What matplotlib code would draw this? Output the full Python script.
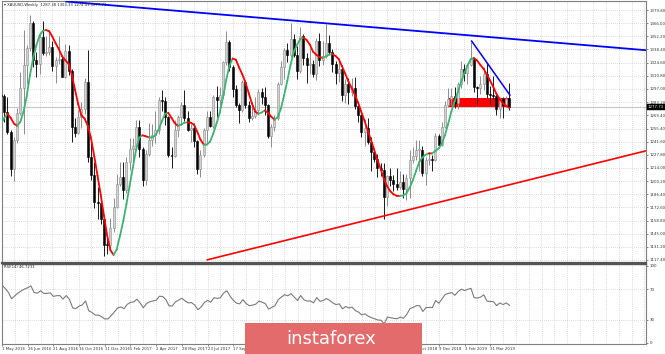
import numpy as np
import matplotlib
matplotlib.use("Agg")
import matplotlib.pyplot as plt
from matplotlib.collections import LineCollection
from matplotlib.patches import Rectangle
import matplotlib.transforms as mtransforms

# ---------------- data ----------------
# earlier weekly closes (Dec 2015 - 24 Apr 2016), off-screen history used to warm up the indicators
history_closes = [1075, 1065, 1076, 1061, 1097, 1089, 1097, 1117, 1158, 1239, 1230, 1222, 1270,
                  1259, 1254, 1217, 1222, 1243, 1235, 1232, 1291]

# weekly XAUUSD candles, 1 May 2016 .. 12 May 2019
opens = [1291, 1290, 1273, 1252, 1213, 1243, 1272, 1298, 1322, 1340, 1366, 1327, 1323, 1351, 1335, 1336,
         1341, 1321, 1327, 1328, 1310, 1337, 1316, 1257, 1251, 1267, 1276, 1304, 1225, 1207, 1178, 1177,
         1160, 1134, 1133, 1151, 1173, 1197, 1205, 1191, 1220, 1234, 1237, 1257, 1234, 1201, 1229, 1243,
         1249, 1254, 1285, 1284, 1268, 1228, 1227, 1254, 1267, 1280, 1266, 1254, 1256, 1242, 1213, 1228,
         1254, 1268, 1258, 1289, 1285, 1291, 1325, 1346, 1320, 1297, 1280, 1275, 1304, 1280, 1266, 1269,
         1275, 1294, 1288, 1280, 1248, 1257, 1266, 1302, 1320, 1338, 1333, 1349, 1333, 1316, 1352, 1329,
         1322, 1323, 1313, 1347, 1327, 1332, 1345, 1336, 1323, 1314, 1318, 1291, 1302, 1294, 1298, 1279,
         1270, 1252, 1256, 1241, 1231, 1223, 1214, 1212, 1184, 1206, 1201, 1197, 1194, 1199, 1192, 1203,
         1222, 1227, 1233, 1233, 1209, 1222, 1223, 1222, 1248, 1238, 1257, 1280, 1286, 1290, 1282, 1302,
         1318, 1314, 1322, 1328, 1299, 1298, 1302, 1313, 1292, 1291, 1290, 1276, 1286, 1280, 1287.38]
highs = [1304, 1292, 1288, 1254, 1247, 1277, 1315, 1359, 1343, 1375, 1368, 1336, 1357, 1368, 1352, 1358,
         1347, 1330, 1352, 1331, 1344, 1343, 1318, 1266, 1275, 1283, 1308, 1338, 1240, 1220, 1194, 1179,
         1165, 1143, 1162, 1182, 1208, 1220, 1220, 1226, 1245, 1245, 1264, 1264, 1236, 1233, 1261, 1260,
         1274, 1288, 1296, 1289, 1269, 1236, 1264, 1270, 1283, 1296, 1274, 1260, 1261, 1243, 1233, 1256,
         1274, 1274, 1291, 1300, 1299, 1326, 1358, 1348, 1322, 1301, 1282, 1306, 1306, 1284, 1283, 1288,
         1297, 1298, 1299, 1281, 1260, 1270, 1304, 1326, 1340, 1345, 1366, 1355, 1342, 1362, 1355, 1335,
         1340, 1327, 1350, 1356, 1347, 1365, 1354, 1339, 1326, 1326, 1322, 1307, 1308, 1308, 1310, 1281,
         1271, 1265, 1266, 1247, 1235, 1229, 1219, 1219, 1207, 1214, 1207, 1214, 1211, 1208, 1208, 1233,
         1236, 1243, 1243, 1237, 1226, 1231, 1228, 1251, 1250, 1262, 1284, 1298, 1298, 1299, 1304, 1326,
         1323, 1323, 1346, 1330, 1300, 1311, 1320, 1324, 1300, 1311, 1292, 1288, 1289, 1290, 1303.33]
lows = [1275, 1262, 1250, 1206, 1200, 1240, 1270, 1250, 1302, 1337, 1320, 1310, 1313, 1333, 1332, 1333,
        1316, 1303, 1323, 1309, 1308, 1312, 1241, 1247, 1250, 1256, 1271, 1220, 1201, 1172, 1160, 1155,
        1122, 1124, 1130, 1147, 1172, 1195, 1181, 1188, 1212, 1217, 1233, 1225, 1195, 1196, 1227, 1237,
        1240, 1250, 1274, 1259, 1226, 1214, 1226, 1247, 1259, 1263, 1253, 1241, 1236, 1208, 1205, 1225,
        1240, 1257, 1256, 1267, 1280, 1288, 1322, 1316, 1288, 1278, 1261, 1273, 1277, 1262, 1264, 1266,
        1270, 1281, 1270, 1245, 1236, 1253, 1264, 1301, 1307, 1325, 1330, 1330, 1307, 1314, 1322, 1303,
        1313, 1309, 1306, 1321, 1322, 1329, 1334, 1315, 1302, 1304, 1284, 1282, 1281, 1290, 1276, 1262,
        1246, 1237, 1239, 1211, 1220, 1204, 1206, 1160, 1174, 1195, 1190, 1191, 1192, 1182, 1180, 1183,
        1219, 1222, 1211, 1206, 1196, 1217, 1211, 1221, 1235, 1237, 1256, 1278, 1280, 1277, 1276, 1298,
        1305, 1302, 1321, 1294, 1281, 1292, 1296, 1287, 1281, 1286, 1270, 1266, 1266, 1278, 1274.43]
closes = [1290, 1273, 1252, 1213, 1243, 1272, 1298, 1322, 1340, 1366, 1327, 1323, 1351, 1335, 1336, 1341,
          1321, 1327, 1328, 1310, 1337, 1316, 1257, 1251, 1267, 1276, 1304, 1225, 1207, 1178, 1177, 1160,
          1133, 1133, 1151, 1173, 1197, 1205, 1191, 1220, 1234, 1237, 1257, 1234, 1201, 1229, 1243, 1249,
          1254, 1285, 1284, 1268, 1228, 1227, 1254, 1267, 1280, 1266, 1254, 1256, 1242, 1213, 1228, 1254,
          1268, 1258, 1289, 1285, 1291, 1325, 1346, 1320, 1297, 1280, 1275, 1304, 1280, 1266, 1269, 1275,
          1294, 1288, 1280, 1248, 1257, 1266, 1302, 1320, 1338, 1333, 1349, 1333, 1316, 1352, 1329, 1322,
          1323, 1313, 1347, 1327, 1332, 1345, 1336, 1323, 1314, 1318, 1291, 1302, 1294, 1298, 1279, 1270,
          1252, 1256, 1241, 1231, 1223, 1214, 1212, 1184, 1206, 1201, 1197, 1194, 1199, 1192, 1203, 1222,
          1227, 1233, 1233, 1209, 1222, 1223, 1222, 1248, 1238, 1257, 1280, 1286, 1290, 1282, 1302, 1318,
          1314, 1322, 1328, 1299, 1298, 1302, 1313, 1292, 1291, 1290, 1276, 1286, 1280, 1286, 1277.73]

price_ticks = [1379.80, 1366.00, 1352.20, 1338.40, 1324.60, 1310.80, 1297.00, 1283.20, 1269.40, 1255.40,
               1241.60, 1227.80, 1214.00, 1200.20, 1186.40, 1172.60, 1158.80, 1145.00, 1131.20, 1117.40]
date_labels = ["1 May 2016", "26 Jun 2016", "21 Aug 2016", "16 Oct 2016", "11 Dec 2016", "5 Feb 2017",
               "2 Apr 2017", "28 May 2017", "23 Jul 2017", "17 Sep 2017", "12 Nov 2017", "7 Jan 2018",
               "4 Mar 2018", "29 Apr 2018", "24 Jun 2018", "19 Aug 2018", "14 Oct 2018", "9 Dec 2018",
               "3 Feb 2019", "31 Mar 2019"]
date_label_step = 8          # weeks between labels
rsi_ticks = [100, 70, 30, 0]

# hand-drawn analysis objects (week index, price)
resistance_line = ([20.0, 200.5], [1388.8, 1337.6])
support_line = ([63.9, 200.5], [1117.4, 1232.0])
short_down_line = ([146.3, 158.2], [1347.2, 1290.5])
support_zone = (139.0, 158.3, 1278.5, 1287.0)   # x0, x1, y0, y1

header = "\u25be XAUUSD,Weekly  1287.38 1303.33 1274.43 1277.73"
rsi_title = "RSI(14) 46.7233"
current_price = closes[-1]

# ---------------- indicators ----------------
all_c = np.array(history_closes + closes, dtype=float)
nh = len(history_closes)
n = len(closes)
x = np.arange(n)

# RSI(14), Wilder smoothing
d = np.diff(all_c)
g = np.where(d > 0, d, 0.0)
l = np.where(d < 0, -d, 0.0)
p = 14
ag = g[:p].mean(); al = l[:p].mean()
rsi_all = np.full(len(all_c), np.nan)
rsi_all[p] = 100 - 100 / (1 + ag / al)
for i in range(p, len(d)):
    ag = (ag * (p - 1) + g[i]) / p
    al = (al * (p - 1) + l[i]) / p
    rsi_all[i + 1] = 100 - 100 / (1 + ag / al) if al > 0 else 100
rsi = rsi_all[nh:]

# Hull moving average of close
def wma(a, k):
    w = np.arange(1, k + 1, dtype=float)
    out = np.full(len(a), np.nan)
    for i in range(k - 1, len(a)):
        out[i] = np.dot(a[i - k + 1:i + 1], w) / w.sum()
    return out

hp = 16
raw = 2 * wma(all_c, hp // 2) - wma(all_c, hp)
raw_valid = np.where(np.isnan(raw), all_c, raw)
ma_all = wma(raw_valid, int(np.sqrt(hp)))
ma = ma_all[nh:]

# ---------------- figure ----------------
W, H = 665, 354
fig = plt.figure(figsize=(W / 100, H / 100), dpi=100)
fig.patch.set_facecolor("white")

def fr(px_left, px_top, px_w, px_h):
    return [px_left / W, 1 - (px_top + px_h) / H, px_w / W, px_h / H]

ax = fig.add_axes(fr(2, 1, 644, 262))
axr = fig.add_axes(fr(2, 264, 644, 80))

XL = (0.31, 200.5)
ax.set_xlim(*XL)
ax.set_ylim(1114.25, 1389.26)
axr.set_xlim(*XL)
axr.set_ylim(-1.7, 102.6)

grid_kw = dict(color="#c4c4c4", lw=0.5, ls=(0, (1.2, 1.8)), zorder=0)
for a in (ax, axr):
    for wk in range(0, 201, 4):
        a.axvline(wk, **grid_kw)
for pt in price_ticks:
    ax.axhline(pt, **grid_kw)
for lv in (70, 30):
    axr.axhline(lv, **grid_kw)

# bid line
ax.axhline(current_price, color="#c8c8c8", lw=0.8, zorder=1)

# support zone
x0, x1, y0, y1 = support_zone
ax.add_patch(Rectangle((x0, y0), x1 - x0, y1 - y0, color="#ff0000", lw=0, zorder=2))

# candles
o = np.array(opens); h = np.array(highs); lo = np.array(lows); c = np.array(closes)
up = c >= o
ax.vlines(x[up], lo[up], h[up], color="#8c8c8c", lw=0.7, zorder=3)
ax.vlines(x[~up], lo[~up], h[~up], color="#1a1a1a", lw=0.7, zorder=3)
body_lo = np.minimum(o, c); body_h = np.maximum(np.abs(c - o), 0.6)
ax.bar(x[up], body_h[up], bottom=body_lo[up], width=0.62, color="#d2d2d2",
       edgecolor="#8c8c8c", lw=0.4, zorder=4)
ax.bar(x[~up], body_h[~up], bottom=body_lo[~up], width=0.62, color="#000000",
       edgecolor="#000000", lw=0.4, zorder=4)

# colored MA
pts = np.column_stack([x, ma])
segs = np.stack([pts[:-1], pts[1:]], axis=1)
cols = ["#3cb371" if ma[i + 1] >= ma[i] else "#ff0000" for i in range(n - 1)]
ax.add_collection(LineCollection(segs, colors=cols, lw=1.3, zorder=5, capstyle="round"))

# trend lines
ax.plot(*resistance_line, color="#0000ff", lw=1.3, zorder=6, solid_capstyle="butt")
ax.plot(*support_line, color="#ff0000", lw=1.2, zorder=6, solid_capstyle="butt")
ax.plot(*short_down_line, color="#0000ff", lw=1.1, zorder=6)

# RSI
axr.plot(x, rsi, color="#7a7a7a", lw=0.8, zorder=3)

# axes styling
for a in (ax, axr):
    for s in a.spines.values():
        s.set_color("#7f7f7f"); s.set_linewidth(0.8)
    a.yaxis.tick_right()
    a.tick_params(axis="y", direction="out", length=1.5, width=0.5, colors="#555555",
                  labelsize=2.8, pad=1.2, labelcolor="#333333")
ax.spines["bottom"].set_color("#555555"); ax.spines["bottom"].set_linewidth(1.6)
axr.spines["top"].set_color("#555555"); axr.spines["top"].set_linewidth(1.0)

ax.set_yticks(price_ticks)
ax.set_yticklabels([f"{v:.2f}" for v in price_ticks])
ax.set_xticks([])
axr.set_yticks(rsi_ticks)
axr.set_yticklabels([str(v) for v in rsi_ticks])
date_pos = [i * date_label_step for i in range(len(date_labels))]
axr.set_xticks(date_pos)
axr.set_xticklabels(date_labels, ha="left")
axr.tick_params(axis="x", direction="out", length=1.5, width=0.5, colors="#555555",
                labelsize=2.8, pad=1.0, labelcolor="#333333")

# current price tag
trans = mtransforms.blended_transform_factory(ax.transAxes, ax.transData)
ax.text(1.003, current_price, f"{current_price:.2f}", transform=trans, fontsize=2.8,
        color="white", va="center", ha="left", zorder=10,
        bbox=dict(boxstyle="square,pad=0.25", fc="black", ec="black", lw=0.3), clip_on=False)

# texts
fig.text(4 / W, 1 - 5 / H, header, fontsize=2.7, color="#222222", va="center", ha="left")
fig.text(4 / W, 1 - 267 / H, rsi_title, fontsize=2.7, color="#222222", va="center", ha="left")

# watermark banner
fig.patches.append(Rectangle((245 / W, 0), (422 - 245) / W, (354 - 323) / H,
                             transform=fig.transFigure, color="#e36b6b", lw=0, zorder=20))
fig.text(331 / W, 1 - 339 / H, "instaforex", fontsize=13, color="white", ha="center",
         va="center", zorder=21, family="DejaVu Sans")

fig.savefig("out.png", dpi=100, facecolor="white")
